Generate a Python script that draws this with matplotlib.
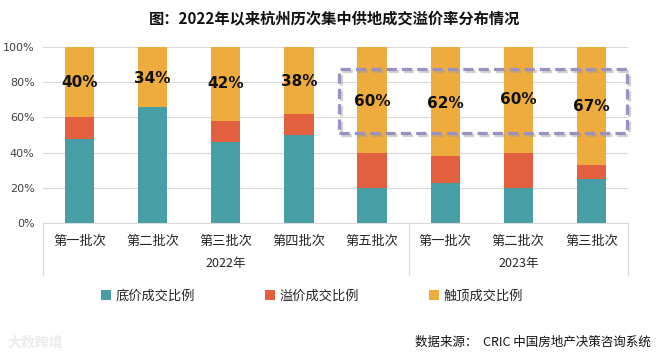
import matplotlib
matplotlib.use("Agg")
import matplotlib.pyplot as plt
import matplotlib.patheffects as pe
from matplotlib.patches import Patch, Rectangle
import numpy as np

plt.rcParams["font.family"] = ["Noto Sans CJK SC", "DejaVu Sans"]

batches = ["第一批次", "第二批次", "第三批次", "第四批次", "第五批次",
           "第一批次", "第二批次", "第三批次"]
years = ["2022年", "2023年"]
year_sizes = [5, 3]

base_share = [48, 66, 46, 50, 20, 23, 20, 25]      # 底价成交比例
premium_share = [12, 0, 12, 12, 20, 15, 20, 8]      # 溢价成交比例
cap_share = [40, 34, 42, 38, 60, 62, 60, 67]        # 触顶成交比例
label_pos = [80, 82, 79, 80.5, 69, 68, 70, 66]      # where the cap % labels sit

series_names = ["底价成交比例", "溢价成交比例", "触顶成交比例"]
colors = ["#479ea5", "#e2603f", "#efac3e"]

W, H = 656, 358
fig = plt.figure(figsize=(W / 100, H / 100), dpi=100)
ax = fig.add_axes([43 / W, 1 - 223 / H, (628 - 43) / W, (223 - 47) / H])

x = np.arange(len(batches))
bottom = np.zeros(len(batches))
for vals, col in zip([base_share, premium_share, cap_share], colors):
    ax.bar(x, vals, width=0.4, bottom=bottom, color=col, zorder=2)
    bottom += np.array(vals)

for xi, v, yp in zip(x, cap_share, label_pos):
    ax.text(xi, yp, f"{v}%", ha="center", va="center", fontsize=11,
            fontweight="bold", family="DejaVu Sans", color="#111111", zorder=4)

ax.set_xlim(-0.5, len(batches) - 0.5)
ax.set_ylim(0, 100)
ax.set_yticks(np.arange(0, 101, 20))
ax.set_yticklabels([f"{v}%" for v in range(0, 101, 20)], fontsize=8,
                   family="DejaVu Sans", color="#404040")
ax.tick_params(axis="y", length=0, pad=6)
ax.tick_params(axis="x", length=0, labelbottom=False)
ax.grid(axis="y", color="#d9d9d9", linewidth=0.8, zorder=0)
for side in ["top", "right", "left"]:
    ax.spines[side].set_visible(False)
ax.spines["bottom"].set_color("#d9d9d9")

# two-level category axis
tr = ax.get_xaxis_transform()
for xi, name in zip(x, batches):
    ax.text(xi, -0.105, name, transform=tr, ha="center", va="center",
            fontsize=9.5, color="#262626")
start = 0
edges = [-0.5]
for yr, n in zip(years, year_sizes):
    mid = start + (n - 1) / 2
    ax.text(mid, -0.23, yr, transform=tr, ha="center", va="center",
            fontsize=9, color="#262626")
    start += n
    edges.append(start - 0.5)
for e in edges:
    ax.plot([e, e], [0, -0.295], transform=tr, color="#d9d9d9",
            linewidth=0.8, clip_on=False)

# dashed highlight box around 2022 batch 5 and 2023
box = Rectangle((3.55, 51), 7.48 - 3.55, 87.5 - 51, fill=False,
                edgecolor="#9c8fc3", linewidth=2.3, linestyle=(0, (3.2, 1.6)),
                zorder=5, clip_on=False,
                path_effects=[pe.SimpleLineShadow(offset=(1.5, -1.5),
                                                  shadow_color="#999999",
                                                  alpha=0.45), pe.Normal()])
ax.add_patch(box)

fig.text(335 / W, 1 - 19 / H, "图：2022年以来杭州历次集中供地成交溢价率分布情况",
         ha="center", va="center", fontsize=11, fontweight="bold", color="#111111")

handles = [Patch(facecolor=c, edgecolor="none") for c in colors]
fig.legend(handles, series_names, loc="center", ncol=3, frameon=False,
           bbox_to_anchor=(312 / W, 1 - 296 / H), fontsize=9.5,
           handlelength=0.75, handleheight=0.75, handletextpad=0.35,
           columnspacing=5.3, labelcolor="#262626")

fig.text(651 / W, 1 - 342 / H, "数据来源：  CRIC 中国房地产决策咨询系统",
         ha="right", va="center", fontsize=9, color="#111111")
fig.text(8 / W, 1 - 342 / H, "大数跨境", ha="left", va="center",
         fontsize=10, color="#ececec", fontweight="bold")

fig.savefig("out.png", dpi=100)
